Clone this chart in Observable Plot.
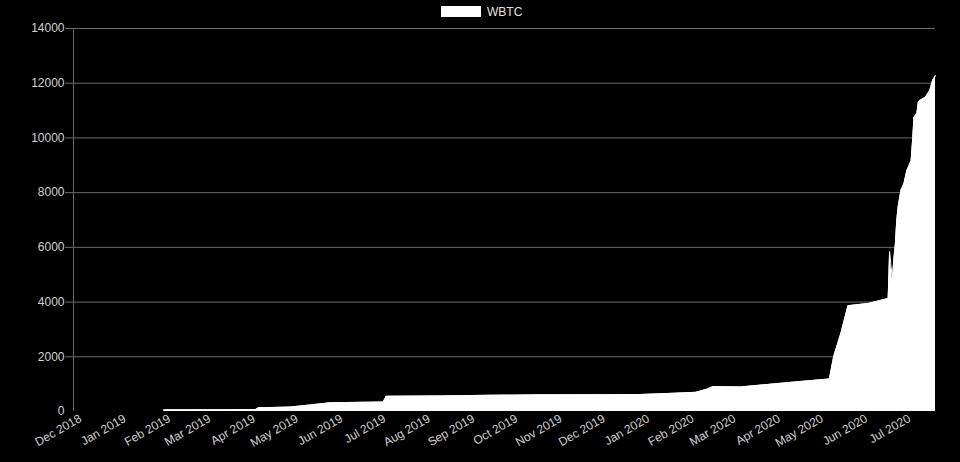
<!DOCTYPE html>
<html>
<head>
<meta charset="utf-8">
<script src="https://cdn.jsdelivr.net/npm/d3@7"></script>
<script src="https://cdn.jsdelivr.net/npm/@observablehq/plot@0.6"></script>
<style>
  html, body { margin: 0; padding: 0; background: #000; }
  #wrap { position: relative; width: 960px; height: 462px; background: #000; overflow: hidden; }
  #legend { position: absolute; top: 0; left: 0; width: 960px; height: 24px; font: 12px "Liberation Sans", Arial, Helvetica, sans-serif; color: #e0e0e0; }
  #legend .box { position: absolute; left: 441px; top: 6px; width: 40px; height: 11px; background: #fff; }
  #legend .lbl { position: absolute; left: 487px; top: 5px; line-height: 14px; }
</style>
</head>
<body>
<div id="wrap">
  <div id="chart"></div>
  <div id="legend"><div class="box"></div><div class="lbl">WBTC</div></div>
</div>
<script>
const seriesName = "WBTC";
const dates = [
  "2019-02-02","2019-02-20","2019-03-15","2019-04-07","2019-04-09","2019-05-01","2019-05-15","2019-05-29",
  "2019-06-20","2019-07-05","2019-07-07","2019-08-14","2019-09-15","2019-10-23","2019-12-01","2019-12-31",
  "2020-01-23","2020-02-08","2020-02-10","2020-02-16","2020-02-20","2020-03-10","2020-03-29","2020-04-21",
  "2020-05-11","2020-05-14","2020-05-19","2020-05-24","2020-06-07","2020-06-21","2020-06-22","2020-06-23",
  "2020-06-24","2020-06-25","2020-06-26","2020-06-27","2020-06-28","2020-06-30","2020-07-02","2020-07-04",
  "2020-07-07","2020-07-08","2020-07-09","2020-07-11","2020-07-12","2020-07-13","2020-07-17","2020-07-20",
  "2020-07-22","2020-07-24"
];
const supply = [
  60, 62, 65, 70, 135, 160, 240, 320,
  335, 345, 560, 570, 590, 610, 615, 620,
  665, 700, 730, 820, 910, 900, 990, 1100,
  1190, 2000, 2850, 3870, 3950, 4130, 5850, 5300,
  4860, 5600, 6100, 7000, 7500, 8100, 8330, 8800,
  9170, 9900, 10760, 10890, 11300, 11370, 11490, 11730,
  12100, 12280
];
const xStart = "2018-12-01";
const xEnd = "2020-07-24";
const yTicks = [0, 2000, 4000, 6000, 8000, 10000, 12000, 14000];
const xTickMonths = ["2018-12-01","2019-01-01","2019-02-01","2019-03-01","2019-04-01","2019-05-01","2019-06-01",
  "2019-07-01","2019-08-01","2019-09-01","2019-10-01","2019-11-01","2019-12-01","2020-01-01","2020-02-01",
  "2020-03-01","2020-04-01","2020-05-01","2020-06-01","2020-07-01"];

const data = dates.map((d, i) => ({date: new Date(d + "T00:00:00Z"), value: supply[i]}));
const gridTicks = yTicks.filter(v => v > 0);
const xTicks = xTickMonths.map(d => new Date(d + "T00:00:00Z"));

const chart = Plot.plot({
  width: 960,
  height: 462,
  marginTop: 28,
  marginBottom: 51,
  marginLeft: 73,
  marginRight: 25,
  style: {background: "#000", color: "#d0d0d0", fontFamily: "'Liberation Sans', Arial, Helvetica, sans-serif", fontSize: "12px"},
  x: {type: "utc", domain: [new Date(xStart + "T00:00:00Z"), new Date(xEnd + "T00:00:00Z")]},
  y: {domain: [0, 14000]},
  marks: [
    Plot.gridY(gridTicks, {stroke: "#6a6a6a", strokeOpacity: 1, strokeWidth: 1}),
    Plot.axisY(gridTicks, {tickSize: 8, stroke: "#6a6a6a", tickFormat: () => "", label: null}),
    Plot.axisY(yTicks, {tickSize: 0, tickPadding: 9, fill: "#d0d0d0", fontSize: 12, label: null, tickFormat: d => String(d)}),
    Plot.ruleX([new Date(xStart + "T00:00:00Z")], {stroke: "#6a6a6a", y1: 0, y2: 14000}),
    Plot.areaY(data, {x: "date", y: "value", fill: "#fff", curve: "linear"}),
    Plot.lineY(data, {x: "date", y: "value", stroke: "#fff", strokeWidth: 1, curve: "linear"}),
    Plot.axisX(xTicks, {tickSize: 0, tickPadding: 6, tickRotate: -30, dx: 7, tickFormat: d3.utcFormat("%b %Y"), fill: "#d0d0d0", fontSize: 12, label: null})
  ]
});
document.getElementById("chart").appendChild(chart);
</script>
</body>
</html>
